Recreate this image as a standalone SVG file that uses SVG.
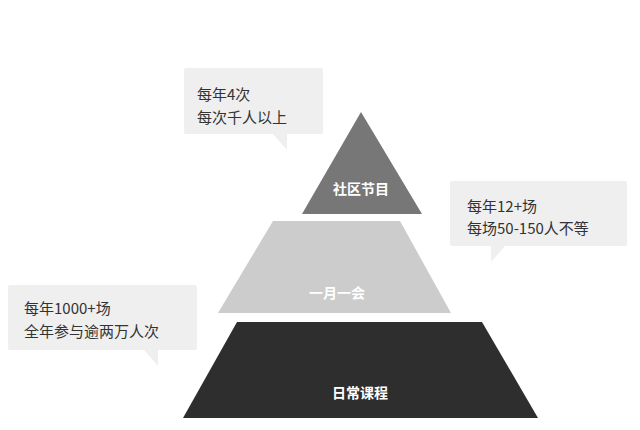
<svg xmlns="http://www.w3.org/2000/svg" width="640" height="430" viewBox="0 0 640 430">
<style>
.c{fill:#efefef}
.t{font-family:"Noto Sans CJK SC","Noto Sans",sans-serif;font-size:15px;fill:#333}
.l{font-family:"Noto Sans CJK SC","Noto Sans",sans-serif;font-size:14px;font-weight:bold;fill:#fff;text-anchor:middle}
</style>
<rect width="640" height="430" fill="#fff"/>
<g id="top"><polygon points="361,112 422,214 302,214" fill="#777"/><text class="l" x="361" y="194">社区节目</text></g>
<g id="mid"><polygon points="273,221 400,221 451,313 218,313" fill="#ccc"/><text class="l" x="337" y="298">一月一会</text></g>
<g id="bot"><polygon points="237,322 482,322 538,418 183,418" fill="#2e2e2e"/><text class="l" x="360" y="398">日常课程</text></g>
<g id="callout1"><rect class="c" x="184" y="68" width="139" height="66" rx="2"/><polygon class="c" points="272,133 287,133 287,150"/><text class="t" x="197" y="100">每年4次</text><text class="t" x="197" y="123">每次千人以上</text></g>
<g id="callout2"><rect class="c" x="450" y="181" width="177" height="65" rx="2"/><polygon class="c" points="491,245 506,245 491,262"/><text class="t" x="467" y="212">每年12+场</text><text class="t" x="467" y="234">每场50-150人不等</text></g>
<g id="callout3"><rect class="c" x="8" y="285" width="189" height="65" rx="2"/><polygon class="c" points="143,349 158,349 158,366"/><text class="t" x="24" y="314">每年1000+场</text><text class="t" x="24" y="337">全年参与逾两万人次</text></g>
<g id="connectors"/>
</svg>
